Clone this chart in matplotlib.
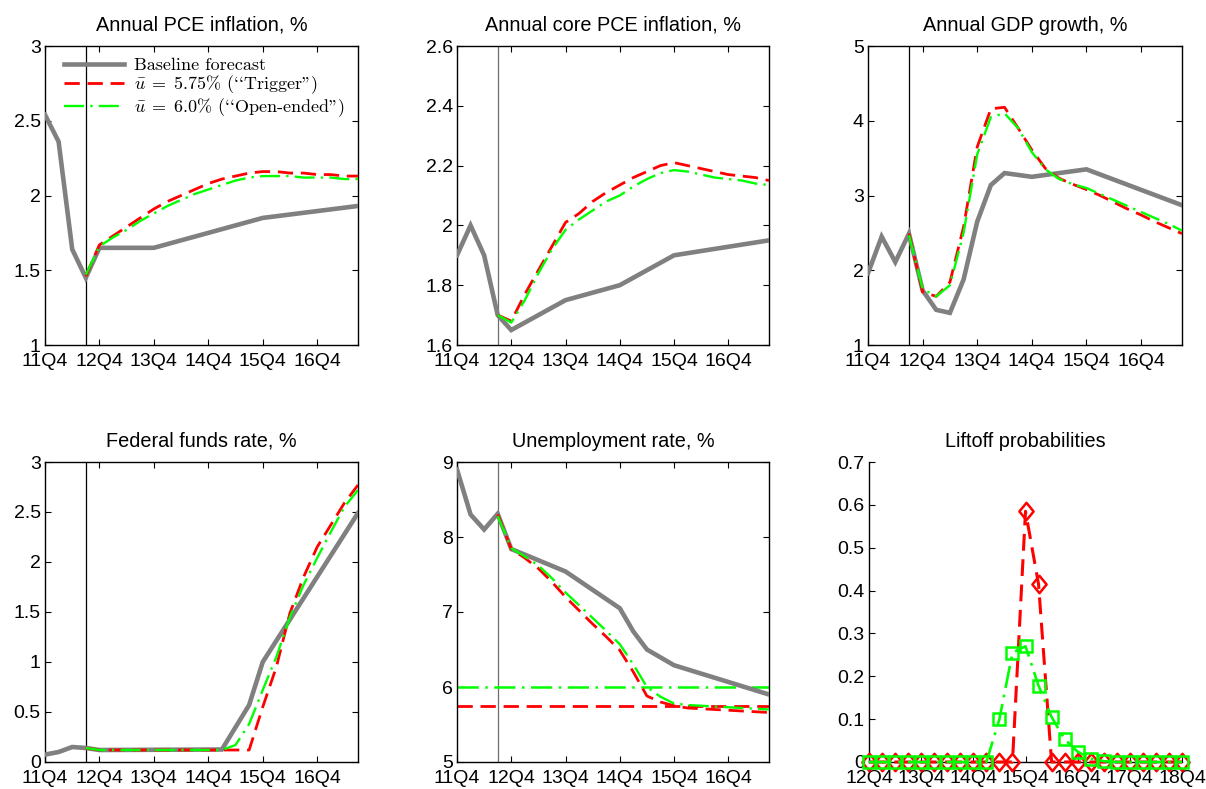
import numpy as np
import matplotlib
matplotlib.use("Agg")
import matplotlib.pyplot as plt
from matplotlib.ticker import FormatStrFormatter
from matplotlib.path import Path

# ---------------- data ----------------
periods = ['11Q4', '12Q1', '12Q2', '12Q3', '12Q4', '13Q1', '13Q2', '13Q3', '13Q4',
           '14Q1', '14Q2', '14Q3', '14Q4', '15Q1', '15Q2', '15Q3', '15Q4',
           '16Q1', '16Q2', '16Q3', '16Q4', '17Q1', '17Q2', '17Q3']
xtick_labels = ['11Q4', '12Q4', '13Q4', '14Q4', '15Q4', '16Q4']
forecast_start = '12Q3'
alt_periods = periods[3:]

# Annual PCE inflation
pce_base_at = ['11Q4', '12Q1', '12Q2', '12Q3', '12Q4', '13Q4', '14Q4', '15Q4', '17Q3']
pce_base = [2.54, 2.36, 1.64, 1.45, 1.65, 1.65, 1.75, 1.85, 1.93]
pce_trig = [1.46, 1.67, 1.73, 1.79, 1.85, 1.91, 1.96, 2.00, 2.04, 2.08, 2.11, 2.13,
            2.15, 2.16, 2.16, 2.15, 2.15, 2.14, 2.14, 2.13, 2.13]
pce_open = [1.47, 1.66, 1.72, 1.77, 1.83, 1.88, 1.93, 1.97, 2.01, 2.04, 2.07, 2.10,
            2.12, 2.13, 2.13, 2.13, 2.12, 2.12, 2.12, 2.11, 2.11]

# Annual core PCE inflation
core_base_at = ['11Q4', '12Q1', '12Q2', '12Q3', '12Q4', '13Q4', '14Q4', '15Q4', '17Q3']
core_base = [1.90, 2.00, 1.90, 1.70, 1.65, 1.75, 1.80, 1.90, 1.95]
core_trig = [1.70, 1.68, 1.77, 1.85, 1.93, 2.01, 2.04, 2.08, 2.11, 2.135, 2.16, 2.18,
             2.20, 2.21, 2.20, 2.19, 2.18, 2.17, 2.165, 2.16, 2.15]
core_open = [1.70, 1.675, 1.75, 1.84, 1.92, 1.985, 2.02, 2.05, 2.08, 2.10, 2.13, 2.155,
             2.175, 2.185, 2.18, 2.17, 2.16, 2.155, 2.15, 2.14, 2.135]

# Annual GDP growth
gdp_base_at = ['11Q4', '12Q1', '12Q2', '12Q3', '12Q4', '13Q1', '13Q2', '13Q3', '13Q4',
               '14Q1', '14Q2', '14Q4', '15Q4', '17Q3']
gdp_base = [1.96, 2.45, 2.11, 2.49, 1.73, 1.47, 1.43, 1.875, 2.65, 3.14, 3.30, 3.25, 3.35, 2.87]
gdp_trig = [2.49, 1.71, 1.65, 1.84, 2.58, 3.65, 4.16, 4.18, 3.90, 3.61, 3.36, 3.23,
            3.15, 3.08, 3.00, 2.91, 2.82, 2.74, 2.65, 2.57, 2.49]
gdp_open = [2.47, 1.75, 1.65, 1.80, 2.50, 3.55, 4.05, 4.10, 3.90, 3.58, 3.35, 3.22,
            3.15, 3.10, 3.02, 2.94, 2.86, 2.78, 2.70, 2.62, 2.53]

# Federal funds rate
ffr_base_at = ['11Q4', '12Q1', '12Q2', '12Q3', '12Q4', '15Q1', '15Q3', '15Q4', '17Q3']
ffr_base = [0.074, 0.10, 0.15, 0.14, 0.12, 0.125, 0.57, 1.00, 2.49]
ffr_trig = [0.14, 0.12, 0.12, 0.12, 0.12, 0.12, 0.12, 0.12, 0.12, 0.12, 0.12, 0.12,
            0.12, 0.55, 0.95, 1.49, 1.85, 2.15, 2.37, 2.59, 2.77]
ffr_open = [0.14, 0.12, 0.12, 0.12, 0.12, 0.12, 0.12, 0.12, 0.12, 0.12, 0.12, 0.17,
            0.38, 0.72, 1.05, 1.45, 1.77, 2.04, 2.30, 2.55, 2.72]

# Unemployment rate
ur_base_at = ['11Q4', '12Q1', '12Q2', '12Q3', '12Q4', '13Q4', '14Q4', '15Q1', '15Q2', '15Q4', '17Q3']
ur_base = [8.90, 8.30, 8.10, 8.31, 7.84, 7.54, 7.05, 6.74, 6.50, 6.29, 5.90]
ur_trig = [8.30, 7.84, 7.72, 7.58, 7.40, 7.20, 7.02, 6.84, 6.67, 6.49, 6.20, 5.88,
           5.80, 5.75, 5.72, 5.71, 5.70, 5.69, 5.68, 5.67, 5.66]
ur_open = [8.28, 7.85, 7.74, 7.62, 7.45, 7.26, 7.09, 6.92, 6.75, 6.57, 6.30, 6.00,
           5.87, 5.78, 5.76, 5.75, 5.74, 5.73, 5.72, 5.71, 5.70]
ur_threshold_trig = 5.75
ur_threshold_open = 6.0

# Liftoff probabilities
lift_periods = ['12Q4', '13Q1', '13Q2', '13Q3', '13Q4', '14Q1', '14Q2', '14Q3', '14Q4',
                '15Q1', '15Q2', '15Q3', '15Q4', '16Q1', '16Q2', '16Q3', '16Q4',
                '17Q1', '17Q2', '17Q3', '17Q4', '18Q1', '18Q2', '18Q3', '18Q4']
lift_tick_labels = ['12Q4', '13Q4', '14Q4', '15Q4', '16Q4', '17Q4', '18Q4']
lift_trig = [0, 0, 0, 0, 0, 0, 0, 0, 0, 0, 0, 0, 0.585, 0.415, 0, 0, 0, 0, 0, 0, 0, 0, 0, 0, 0]
lift_open = [0, 0, 0, 0, 0, 0, 0, 0, 0, 0, 0.10, 0.255, 0.27, 0.178, 0.105, 0.053, 0.024,
             0.008, 0.002, 0, 0, 0, 0, 0, 0]

titles = ['Annual PCE inflation, %', 'Annual core PCE inflation, %', 'Annual GDP growth, %',
          'Federal funds rate, %', 'Unemployment rate, %', 'Liftoff probabilities']
legend_labels = ['Baseline forecast', r'$\bar{u}\;=\;5.75\%$ (``Trigger")',
                 r'$\bar{u}\;=\;6.0\%$ (``Open-ended")']

# ---------------- style ----------------
plt.rcParams['font.family'] = ['Liberation Sans', 'DejaVu Sans']
plt.rcParams['mathtext.fontset'] = 'cm'

GRAY = (0.5, 0.5, 0.5)
RED = '#ff0000'
GREEN = '#00ff00'
RED_DASH = (0, (5.5, 2.8))
GREEN_DASHDOT = (0, (8.5, 2.6, 1.0, 2.6))

fig = plt.figure(figsize=(12.06, 7.89), dpi=100)

col_x = [45 / 1206, 457 / 1206, 868 / 1206]
col_w = [313 / 1206, 312 / 1206, 314 / 1206]
row_y = [1 - 345 / 789, 1 - 762 / 789]
row_h = [299 / 789, 300 / 789]

def idx(labels):
    return [periods.index(p) for p in labels]

x_alt = idx(alt_periods)
xticks = idx(xtick_labels)
vline_x = periods.index(forecast_start)

def make_ax(r, c):
    return fig.add_axes([col_x[c], row_y[r], col_w[c], row_h[r]])

def style_ax(ax, title, ylim, ystep, vcolor):
    ax.set_xlim(0, len(periods) - 1)
    ax.set_ylim(*ylim)
    ax.set_yticks(np.arange(ylim[0], ylim[1] + ystep / 2, ystep))
    ax.yaxis.set_major_formatter(FormatStrFormatter('%g'))
    ax.set_xticks(xticks)
    ax.set_xticklabels(xtick_labels)
    ax.tick_params(direction='in', length=4, width=0.8, top=True, right=True,
                   labelsize=14, pad=5.5)
    ax.tick_params(axis='y', pad=3)
    for s in ax.spines.values():
        s.set_linewidth(1.0)
    ax.axvline(vline_x, color=vcolor, lw=0.9, zorder=1)
    ax.set_title(title, fontsize=14.3, pad=11)

series = [
    (0, 0, pce_base_at, pce_base, pce_trig, pce_open, (1, 3), 0.5, 'black'),
    (0, 1, core_base_at, core_base, core_trig, core_open, (1.6, 2.6), 0.2, '#6e6e6e'),
    (0, 2, gdp_base_at, gdp_base, gdp_trig, gdp_open, (1, 5), 1, 'black'),
    (1, 0, ffr_base_at, ffr_base, ffr_trig, ffr_open, (0, 3), 0.5, 'black'),
    (1, 1, ur_base_at, ur_base, ur_trig, ur_open, (5, 9), 1, '#6e6e6e'),
]

for k, (r, c, b_at, b, t, o, ylim, ystep, vcol) in enumerate(series):
    ax = make_ax(r, c)
    ti = 3 * r + c
    if ti == 4:
        ax.plot([0, len(periods) - 1], [ur_threshold_open] * 2, color=GREEN, lw=1.8,
                ls=GREEN_DASHDOT, zorder=2)
        ax.plot([0, len(periods) - 1], [ur_threshold_trig] * 2, color=RED, lw=2.0,
                ls=RED_DASH, zorder=2)
    l1, = ax.plot(idx(b_at), b, color=GRAY, lw=3.3, zorder=3, solid_joinstyle='miter')
    l2, = ax.plot(x_alt, t, color=RED, lw=2.0, ls=RED_DASH, zorder=4)
    l3, = ax.plot(x_alt, o, color=GREEN, lw=1.7, ls=GREEN_DASHDOT, zorder=5)
    style_ax(ax, titles[ti], ylim, ystep, vcol)
    if ti == 0:
        leg = ax.legend([l1, l2, l3], legend_labels, loc='upper left',
                        bbox_to_anchor=(0.062, 0.962), frameon=False,
                        prop={'family': ['cmr10', 'DejaVu Serif'], 'size': 13},
                        handlelength=3.3, handletextpad=0.55, labelspacing=0.02,
                        borderaxespad=0, borderpad=0)

# Liftoff panel
ax = fig.add_axes([869 / 1206, row_y[1], 313 / 1206, row_h[1]])
xl = list(range(len(lift_periods)))
diamond = Path([(0, 1), (0.82, 0), (0, -1), (-0.82, 0), (0, 1)],
               [Path.MOVETO, Path.LINETO, Path.LINETO, Path.LINETO, Path.CLOSEPOLY])
ax.plot(xl, lift_trig, color=RED, lw=2.2, ls=RED_DASH, marker=diamond, markersize=12.5,
        markerfacecolor='none', markeredgecolor=RED, markeredgewidth=1.8, zorder=3,
        clip_on=False)
ax.plot(xl, lift_open, color=GREEN, lw=1.9, ls=GREEN_DASHDOT, marker='s', markersize=8,
        markerfacecolor='none', markeredgecolor=GREEN, markeredgewidth=1.8, zorder=4,
        clip_on=False)
ax.set_xlim(0, len(lift_periods) - 1)
ax.set_ylim(0, 0.7)
ax.set_yticks(np.arange(0, 0.75, 0.1))
ax.yaxis.set_major_formatter(FormatStrFormatter('%g'))
ax.set_xticks([lift_periods.index(p) for p in lift_tick_labels])
ax.set_xticklabels(lift_tick_labels)
ax.spines['top'].set_visible(False)
ax.spines['right'].set_visible(False)
ax.spines['left'].set_linewidth(1.0)
ax.spines['bottom'].set_linewidth(1.0)
ax.tick_params(direction='in', length=4, width=0.8, labelsize=14, pad=5.5)
ax.tick_params(axis='y', pad=3)
ax.set_title(titles[5], fontsize=14.3, pad=11)

fig.savefig('out.png', dpi=100)
